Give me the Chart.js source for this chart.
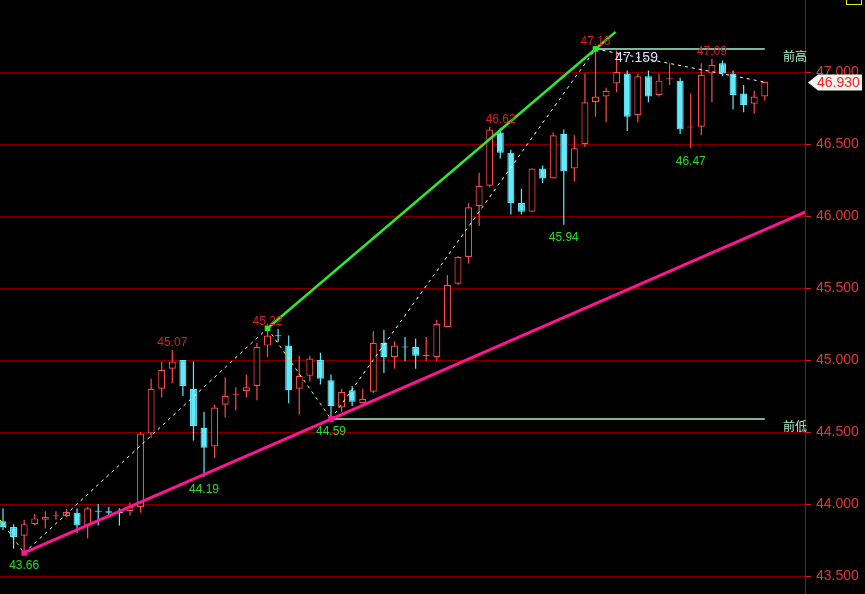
<!DOCTYPE html>
<html><head><meta charset="utf-8">
<script src="https://cdn.jsdelivr.net/npm/chart.js@4.4.1/dist/chart.umd.min.js"></script>
<style>html,body{margin:0;padding:0;background:#000;overflow:hidden}</style>
</head><body>
<canvas id="c" width="865" height="594"></canvas>
<script>
// ---- candle data (index 0..72) ----
const opens = [43.88,43.84,43.78,43.86,43.89,43.915,43.917,43.94,43.85,43.953,
  43.95,43.944,43.95,43.98,44.49,44.80,44.94,45.00,44.80,44.53,
  44.40,44.69,44.758,44.785,44.82,45.10,45.172,45.10,44.80,44.89,
  45.00,44.86,44.67,44.79,44.70,44.78,45.12,45.02,45.094,45.09,
  45.028,45.02,45.23,45.53,45.715,46.07,46.21,46.58,46.44,46.09,
  46.03,46.33,46.26,46.57,46.33,46.50,46.79,46.83,46.92,46.99,
  46.70,46.97,46.84,46.95,46.94,46.615,46.62,46.99,47.06,46.99,
  46.85,46.78,46.83];
const highs = [43.97,43.86,43.89,43.93,43.95,43.95,43.965,43.97,43.98,44.00,
  43.98,43.97,44.01,44.50,44.87,44.99,45.07,45.00,44.99,44.64,
  44.69,44.88,44.81,44.90,45.12,45.22,45.215,45.17,45.03,45.03,
  45.05,44.90,44.80,44.82,44.80,45.20,45.21,45.13,45.16,45.15,
  45.16,45.28,45.59,45.72,46.09,46.30,46.62,46.61,46.46,46.19,
  46.33,46.35,46.58,46.60,46.56,46.99,47.16,46.89,47.15,47.01,
  46.99,47.01,46.99,47.06,46.96,46.85,47.06,47.09,47.08,47.01,
  46.91,46.87,46.93];
const lows = [43.82,43.69,43.66,43.85,43.83,43.89,43.91,43.80,43.76,43.85,
  43.92,43.85,43.92,43.94,44.46,44.74,44.84,44.75,44.44,44.19,
  44.32,44.60,44.65,44.74,44.72,45.02,45.125,44.70,44.62,44.85,
  44.83,44.59,44.64,44.68,44.70,44.77,44.91,44.94,44.99,44.94,
  44.99,44.99,45.23,45.52,45.67,45.93,46.20,46.40,46.01,46.01,
  46.03,46.23,46.26,45.94,46.24,46.48,46.69,46.65,46.86,46.59,
  46.65,46.79,46.83,46.91,46.57,46.47,46.56,46.79,46.97,46.74,
  46.72,46.71,46.80];
const closes = [43.84,43.77,43.86,43.90,43.91,43.922,43.944,43.85,43.97,43.946,
  43.94,43.937,43.98,44.49,44.80,44.93,44.99,44.82,44.54,44.39,
  44.67,44.75,44.765,44.81,45.09,45.17,45.165,44.79,44.89,45.01,
  44.87,44.68,44.78,44.71,44.73,45.12,45.02,45.10,45.087,45.03,
  45.035,45.25,45.52,45.715,46.06,46.21,46.60,46.44,46.09,46.03,
  46.33,46.26,46.56,46.31,46.47,46.79,46.83,46.87,47.00,46.69,
  46.97,46.83,46.94,46.956,46.60,46.622,46.98,47.05,46.99,46.84,
  46.77,46.83,46.93];

// ---- axis ----
const yTicks = [43.5,44.0,44.5,45.0,45.5,46.0,46.5,47.0];
const yMin = 43.375, yMax = 47.5;
const xMin = -0.284, xMax = 75.8;

// ---- zigzag (swing) line ----
const zigIdx = [-0.284, 2, 25, 31, 56, 72];
const zigVal = [43.89, 43.66, 45.22, 44.59, 47.16, 46.93];
const zigSegColor = ['#ffff00','#ffffff','#ffff00','#ffffff','#ffffff'];

// ---- trend lines (anchor index, anchor value) ----
const supportIdx = [2, 31];      const supportVal = [43.66, 44.59];
const resistIdx  = [25, 56];     const resistVal  = [45.22, 47.16];
const resistEndIdx = 57.9;

// ---- previous high / low ----
const prevHigh = 47.16, prevHighFrom = 56;
const prevLow = 44.59, prevLowFrom = 31;
const lastIdx = 72;

// ---- value labels ----
const highLabelIdx = [16, 25, 46, 56, 67];
const highLabelTxt = ['45.07','45.22','46.62','47.16','47.09'];
const lowLabelIdx = [2, 19, 31, 53, 65];
const lowLabelTxt = ['43.66','44.19','44.59','45.94','46.47'];
const cursorLabel = '47.159';
const lastPriceTxt = '46.930';

const RED = '#ff4a4a', CYAN = '#62eafc';
const isUp = i => closes[i] >= opens[i];

function extend(idxs, vals, toIdx) {
  const s = (vals[1]-vals[0])/(idxs[1]-idxs[0]);
  return vals[0] + s*(toIdx-idxs[0]);
}

const bodies = closes.map((c,i)=>({x:i, y:[opens[i], c]}));
const wicks = closes.map((c,i)=>({x:i, y:[lows[i], highs[i]]}));
const zig = zigIdx.map((x,i)=>({x, y:zigVal[i]}));
const support = [{x:supportIdx[0],y:supportVal[0]},{x:supportIdx[1],y:supportVal[1]},
  {x:xMax+1, y:extend(supportIdx,supportVal,xMax+1)}];
const resist = [{x:resistIdx[0],y:resistVal[0]},{x:resistIdx[1],y:resistVal[1]},
  {x:resistEndIdx, y:extend(resistIdx,resistVal,resistEndIdx)}];

const overlay = {
  id:'overlay',
  beforeDatasetsDraw(chart){
    const {ctx, scales:{y}, chartArea} = chart;
    ctx.save();
    ctx.strokeStyle='#900000'; ctx.lineWidth=1; ctx.setLineDash([1,1]);
    yTicks.forEach(v=>{
      const py = Math.round(y.getPixelForValue(v))+0.5;
      ctx.beginPath(); ctx.moveTo(chartArea.left, py); ctx.lineTo(chartArea.right, py); ctx.stroke();
    });
    ctx.restore();
  },
  afterDatasetsDraw(chart){
    const {ctx, scales:{x,y}} = chart;
    ctx.save();
    ctx.textAlign='center'; ctx.textBaseline='middle';
    ctx.font='12px "Liberation Sans", Arial, sans-serif';
    const hdx = {46: 11};
    ctx.fillStyle='#e01c1c';
    highLabelIdx.forEach((i,k)=>{
      ctx.fillText(highLabelTxt[k], x.getPixelForValue(i)+(hdx[i]||0), y.getPixelForValue(highs[i])-7);
    });
    ctx.fillStyle='#22e022';
    lowLabelIdx.forEach((i,k)=>{
      ctx.fillText(lowLabelTxt[k], x.getPixelForValue(i), y.getPixelForValue(lows[i])+13);
    });
    ctx.font='14px "Liberation Sans", Arial, sans-serif';
    ctx.fillStyle='#d8e0ff';
    ctx.fillText(cursorLabel, x.getPixelForValue(prevHighFrom)+41, y.getPixelForValue(prevHigh)+9);
    ctx.restore();
  },
  afterDraw(chart){
    const {ctx, scales:{x,y}, chartArea} = chart;
    ctx.save();
    ctx.font='12px "Noto Sans CJK SC", sans-serif';
    ctx.fillStyle='#a8f0d0';
    ctx.textAlign='right'; ctx.textBaseline='middle';
    ctx.fillText('前高', chartArea.right+2, y.getPixelForValue(prevHigh)+7);
    ctx.fillText('前低', chartArea.right+2, y.getPixelForValue(prevLow)+7);
    // last price tag
    const py = Math.round(y.getPixelForValue(closes[lastIdx]))+0.5;
    const lx = chartArea.right+3;
    ctx.fillStyle='#eef5ee';
    ctx.beginPath();
    ctx.moveTo(lx, py); ctx.lineTo(lx+10, py-8); ctx.lineTo(862, py-8);
    ctx.lineTo(862, py+8); ctx.lineTo(lx+10, py+8); ctx.closePath(); ctx.fill();
    ctx.fillStyle='#ff2020';
    ctx.font='14px "Liberation Sans", Arial, sans-serif';
    ctx.textAlign='left';
    ctx.fillText(lastPriceTxt, lx+9, py+1);
    // small yellow box top right
    ctx.strokeStyle='#e8e800'; ctx.lineWidth=1;
    ctx.strokeRect(846.5, -1.5, 15, 6);
    ctx.restore();
  }
};

new Chart(document.getElementById('c'), {
  type:'bar',
  data:{ datasets:[
    {type:'line', data:resist, borderColor:'#2ee82e', borderWidth:2.5, tension:0,
     pointStyle:'rect', pointRadius:[4,4,0], pointBackgroundColor:'#22ee22', pointBorderWidth:0, order:1},
    {type:'line', data:support, borderColor:'#ff1493', borderWidth:3, tension:0,
     pointStyle:'rect', pointRadius:[4,4,0], pointBackgroundColor:'#ff1493', pointBorderWidth:0, order:1},
    {type:'line', data:zig, borderColor:'#ffffff', borderWidth:1, borderDash:[3,4], tension:0, pointRadius:0,
     segment:{borderColor: c => zigSegColor[c.p0DataIndex]}, order:2},
    {type:'line', data:[{x:prevHighFrom,y:prevHigh},{x:lastIdx,y:prevHigh}], borderColor:'#a8f0d0', borderWidth:1.5, pointRadius:0, order:3},
    {type:'line', data:[{x:prevLowFrom,y:prevLow},{x:lastIdx,y:prevLow}], borderColor:'#a8f0d0', borderWidth:1.5, pointRadius:0, order:3},
    {type:'bar', data:bodies, grouped:false, barThickness:7, borderWidth:1.2, borderSkipped:false, inflateAmount:0,
     backgroundColor: closes.map((c,i)=>isUp(i)?'#000000':CYAN),
     borderColor: closes.map((c,i)=>isUp(i)?RED:CYAN), order:4},
    {type:'bar', data:wicks, grouped:false, barThickness:1.2, borderWidth:0, inflateAmount:0,
     backgroundColor: closes.map((c,i)=>isUp(i)?RED:CYAN), order:5}
  ]},
  options:{
    responsive:false, animation:false, devicePixelRatio:1,
    layout:{padding:0, autoPadding:false},
    plugins:{legend:{display:false}, tooltip:{enabled:false}},
    scales:{
      x:{type:'linear', min:xMin, max:xMax, display:false, offset:false},
      y:{position:'right', min:yMin, max:yMax,
        afterBuildTicks: s => { s.ticks = yTicks.map(v=>({value:v})); },
        afterFit: s => { s.width = 60; s.paddingTop = 0; s.paddingBottom = 0; },
        grid:{drawOnChartArea:false, tickColor:'#d02020', tickLength:6, drawTicks:true},
        border:{display:true, color:'#c00000', width:1},
        ticks:{color:'#e53535', padding:5, font:{size:14, family:'"Liberation Sans", Arial, sans-serif'},
          callback: v => Number(v).toFixed(3)}
      }
    }
  },
  plugins:[overlay]
});
</script>
</body></html>
